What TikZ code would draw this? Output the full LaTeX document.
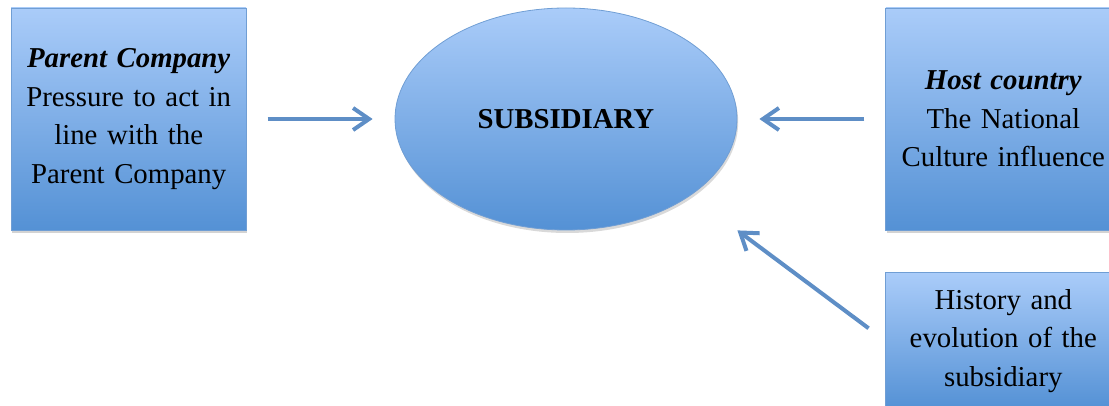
\documentclass[tikz,border=0pt]{standalone}
\usepackage{fontspec}
\setmainfont{Liberation Serif}
\usetikzlibrary{arrows.meta, positioning, shapes.geometric, shadows}
\definecolor{boxtop}{RGB}{170,204,249}
\definecolor{boxbottom}{RGB}{84,145,213}
\definecolor{boxline}{RGB}{112,158,212}
\definecolor{arrowblue}{RGB}{94,142,198}

\begin{document}
\begin{tikzpicture}[x=0.5pt, y=-0.5pt,
                factorbox/.style={draw=boxline, thin, top color=boxtop, bottom color=boxbottom,
                                 minimum width=117.5pt, minimum height=111pt, inner sep=0pt,
                                 text width=112pt, align=center,
                                 font=\fontsize{14.4}{19.3}\selectfont,
                                 drop shadow={opacity=0.35, shadow xshift=0.6pt, shadow yshift=-1.5pt}},
                subsidiary/.style={ellipse, draw=boxline, thin, top color=boxtop, bottom color=boxbottom,
                                 minimum width=171pt, minimum height=111pt, inner sep=0pt,
                                 font=\fontsize{14.4}{19.3}\selectfont\bfseries,
                                 drop shadow={opacity=0.3, shadow xshift=0.6pt, shadow yshift=-1.5pt}},
                influence/.style={draw=arrowblue, line width=2pt,
                                 -{Straight Barb[length=8pt, width=11pt]},
                                 shorten <=10.5pt, shorten >=11pt}]

                \clip (0,0) rectangle (1109,406);

                % Subsidiary and its influences
                \node[subsidiary] (sub) at (566,119) {SUBSIDIARY};
                \node[factorbox, left=74pt of sub] (parent)
                    {\textbf{\textit{Parent Company}}\\ Pressure to act in\\ line with the\\ Parent Company};
                \node[factorbox, right=74pt of sub] (host)
                    {\textbf{\textit{Host country}}\\ The National\\ Culture influence};
                \node[factorbox, minimum height=68pt, below=21pt of host] (history)
                    {History and\\ evolution of the\\ subsidiary};

                % Arrows into the subsidiary
                \coordinate (subcorner) at (sub.south -| sub.east);
                \draw[influence] (parent) -- (sub);
                \draw[influence] (host) -- (sub);
                \draw[influence, shorten >=0pt] (history.west) -- (subcorner);
            \end{tikzpicture}
\end{document}
